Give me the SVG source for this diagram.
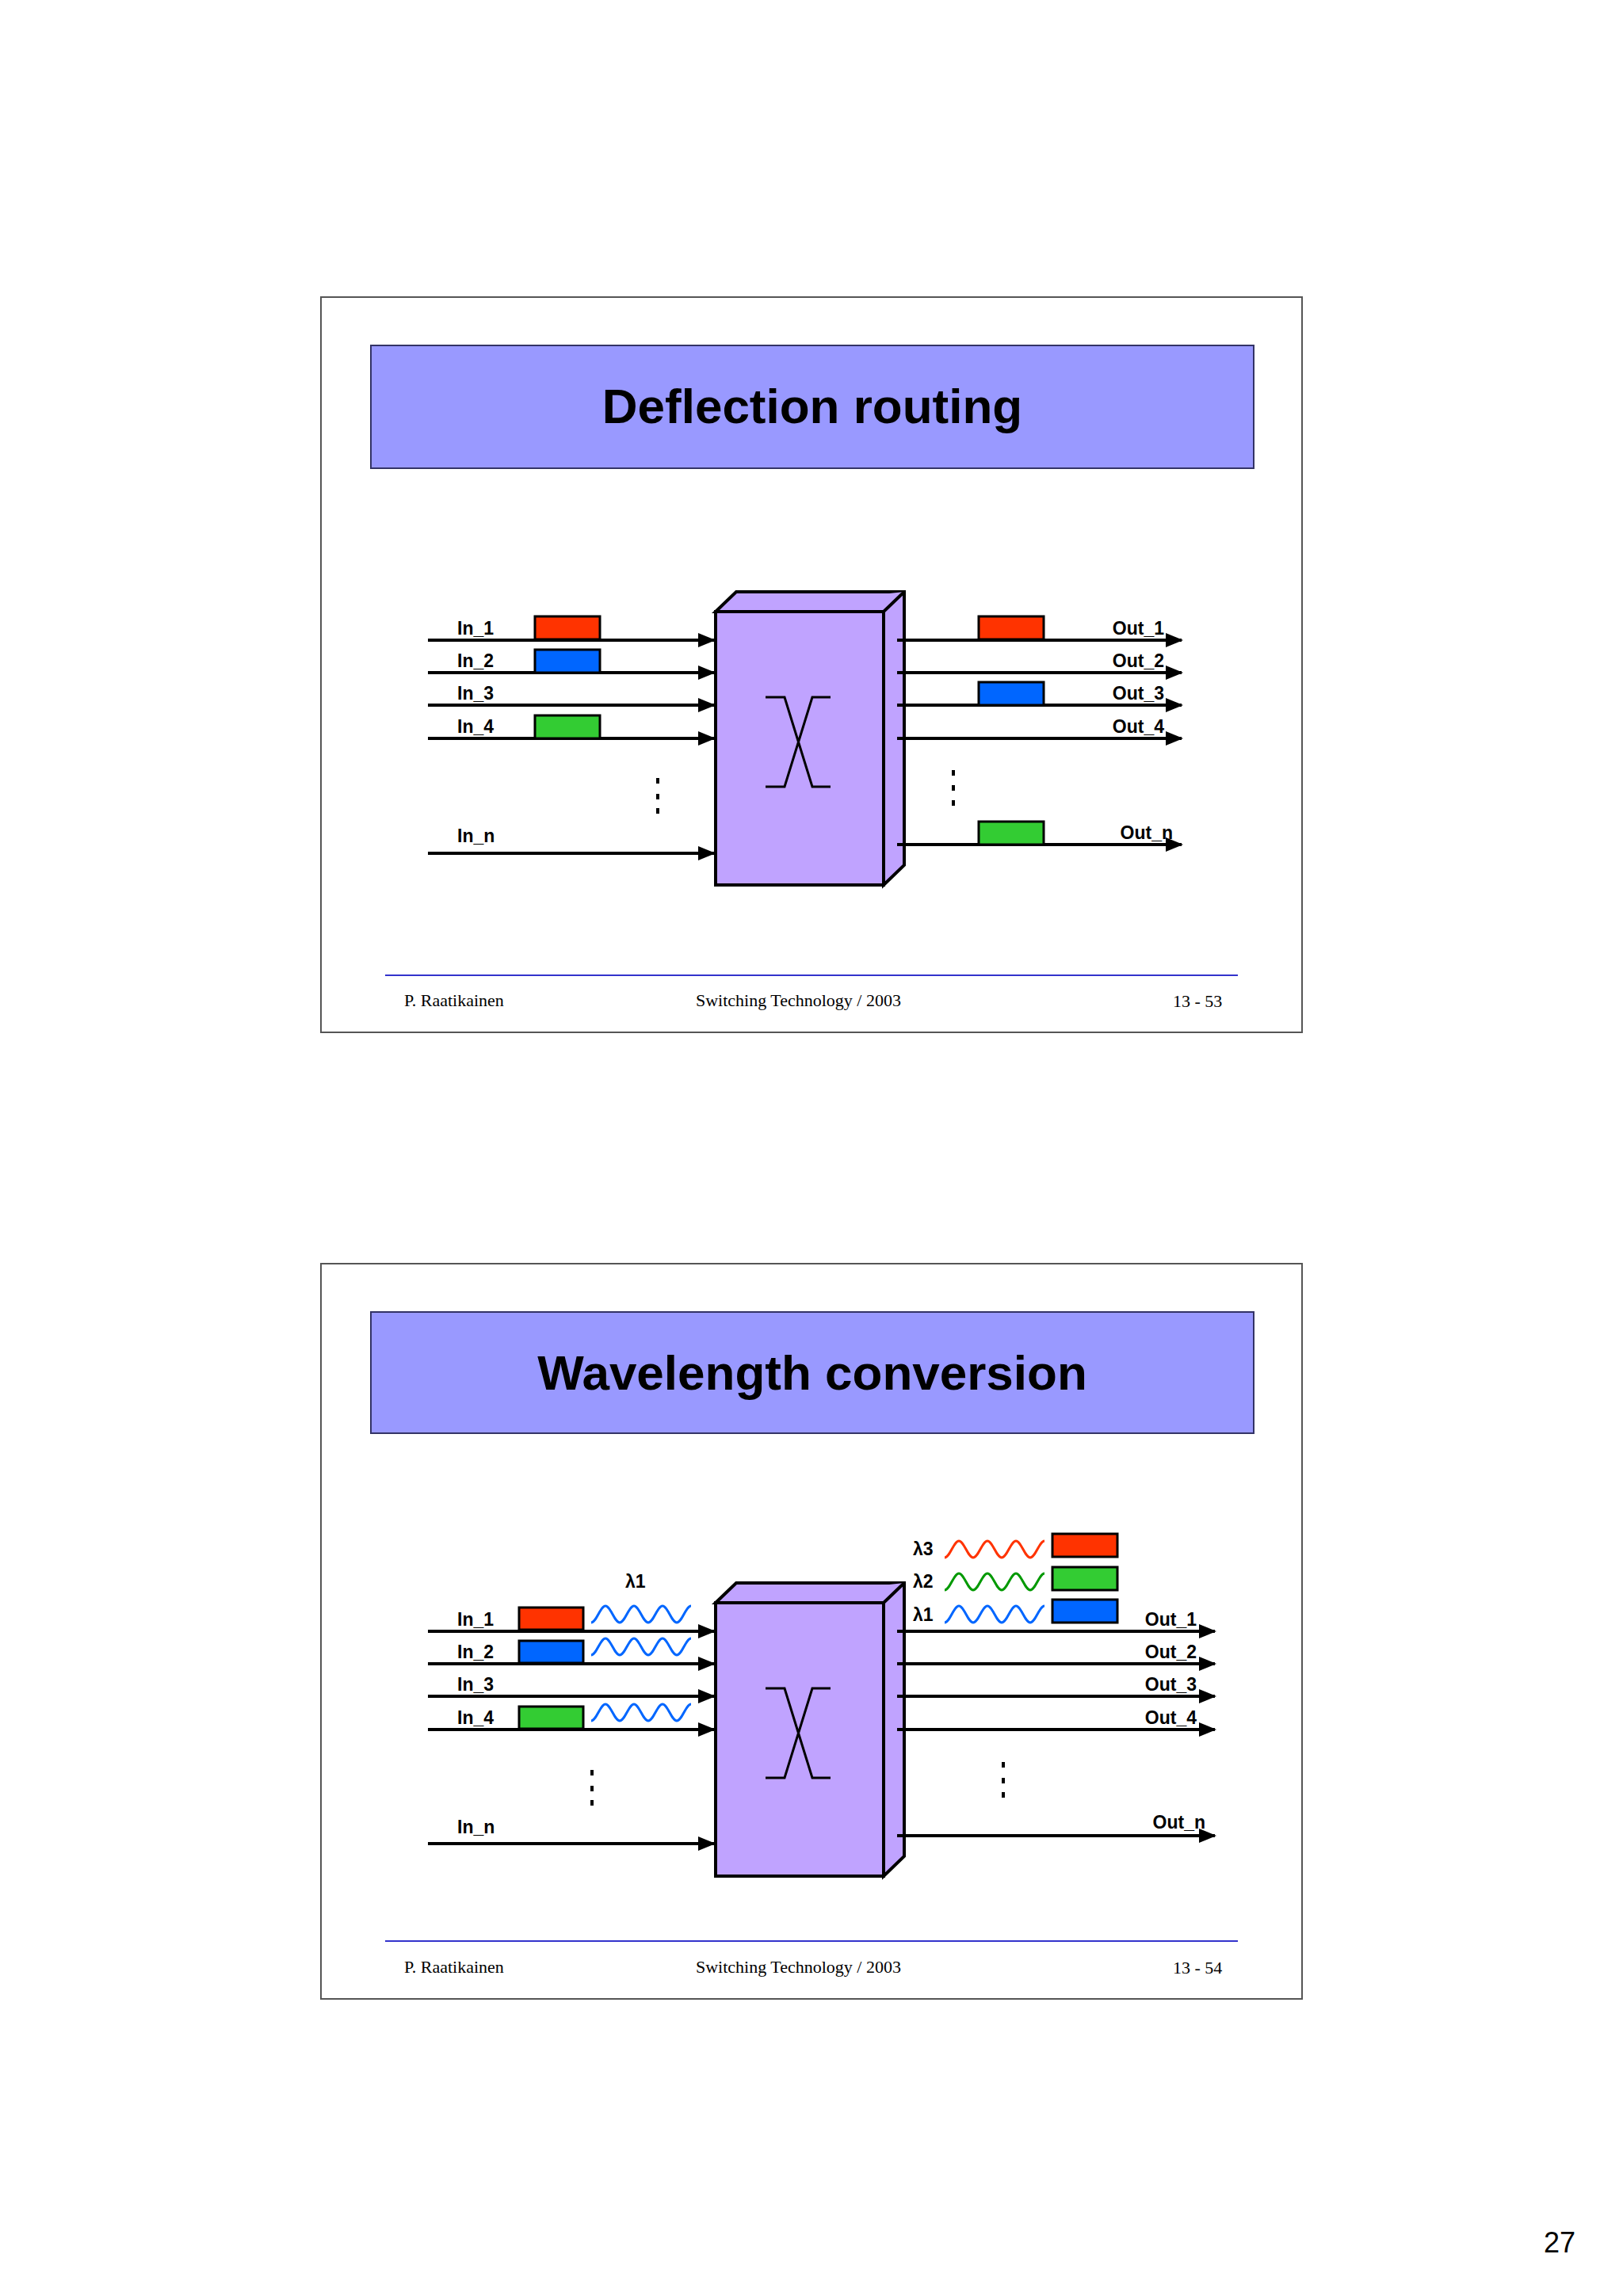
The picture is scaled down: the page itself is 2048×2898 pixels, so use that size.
<svg xmlns="http://www.w3.org/2000/svg" width="2048" height="2898" viewBox="0 0 2048 2898">
<style>
.frame{fill:#fff;stroke:#555;stroke-width:2}
.title{fill:#9999FF;stroke:#333366;stroke-width:2}
.tt{font-family:"Liberation Sans",Arial,sans-serif;font-weight:bold;font-size:62px;text-anchor:middle;fill:#000}
.foot{font-family:"Liberation Serif","Times New Roman",serif;font-size:22px;fill:#000}
.fl{stroke:#3333CC;stroke-width:2}
.lbl{font-family:"Liberation Sans",Arial,sans-serif;font-weight:bold;font-size:23px;fill:#000}
.ln{stroke:#000;stroke-width:4;fill:none;marker-end:url(#ah)}
.box{fill:#C0A3FF;stroke:#000;stroke-width:4;stroke-linejoin:miter}
.x{stroke:#000;stroke-width:3;fill:none}
.pk{stroke:#000;stroke-width:3}
.dot{fill:#000}
.wv{fill:none;stroke-width:3}
</style>
<defs>
<marker id="ah" markerUnits="userSpaceOnUse" markerWidth="22" markerHeight="18" refX="20" refY="9" orient="auto"><path d="M0,0 L22,9 L0,18 Z" fill="#000"/></marker>
<path id="wave" d="M0,21 c6.5,0 11.5,-21 18,-21 c6.5,0 11.5,21 18,21 c6.5,0 11.5,-21 18,-21 c6.5,0 11.5,21 18,21 c6.5,0 11.5,-21 18,-21 c6.5,0 11.5,21 18,21 c6.5,0 11.5,-21 18,-21"/>
<g id="sw">
<path class="box" d="M903,772 L929,747 L1141,747 L1141,1092 L1115,1117 L1115,772 Z"/>
<path class="box" d="M903,772 L1115,772 L1141,747"/>
<rect class="box" x="903" y="772" width="212" height="345"/>
<path class="x" d="M966,880 H990 L1025,993 H1048 M1048,880 H1025 L990,993 H966"/>
</g>
</defs>
<rect width="2048" height="2898" fill="#fff"/>

<!-- Slide 1 -->
<g id="slide1">
<rect class="frame" x="405" y="375" width="1238" height="928"/>
<g id="title1"><rect class="title" x="468" y="436" width="1114" height="155"/><text class="tt" x="1025" y="534">Deflection routing</text></g>
<g id="switch1"><use href="#sw"/></g>
<g id="connectors1">
<line class="ln" x1="540" y1="808" x2="901" y2="808"/>
<line class="ln" x1="540" y1="849" x2="901" y2="849"/>
<line class="ln" x1="540" y1="890" x2="901" y2="890"/>
<line class="ln" x1="540" y1="932" x2="901" y2="932"/>
<line class="ln" x1="540" y1="1077" x2="901" y2="1077"/>
<line class="ln" x1="1132" y1="808" x2="1491" y2="808"/>
<line class="ln" x1="1132" y1="849" x2="1491" y2="849"/>
<line class="ln" x1="1132" y1="890" x2="1491" y2="890"/>
<line class="ln" x1="1132" y1="932" x2="1491" y2="932"/>
<line class="ln" x1="1132" y1="1066" x2="1491" y2="1066"/>
</g>
<g id="packets1">
<rect class="pk" x="675" y="778" width="82" height="29" fill="#FF3300"/>
<rect class="pk" x="675" y="820" width="82" height="29" fill="#0066FF"/>
<rect class="pk" x="675" y="903" width="82" height="29" fill="#33CC33"/>
<rect class="pk" x="1235" y="778" width="82" height="29" fill="#FF3300"/>
<rect class="pk" x="1235" y="861" width="82" height="29" fill="#0066FF"/>
<rect class="pk" x="1235" y="1037" width="82" height="29" fill="#33CC33"/>
</g>
<g id="labels1">
<text class="lbl" x="577" y="801">In_1</text>
<text class="lbl" x="577" y="842">In_2</text>
<text class="lbl" x="577" y="883">In_3</text>
<text class="lbl" x="577" y="925">In_4</text>
<text class="lbl" x="577" y="1063">In_n</text>
<text class="lbl" x="1469" y="801" text-anchor="end">Out_1</text>
<text class="lbl" x="1469" y="842" text-anchor="end">Out_2</text>
<text class="lbl" x="1469" y="883" text-anchor="end">Out_3</text>
<text class="lbl" x="1469" y="925" text-anchor="end">Out_4</text>
<text class="lbl" x="1480" y="1059" text-anchor="end">Out_n</text>
</g>
<g id="dots1">
<rect class="dot" x="828" y="982" width="4" height="7"/><rect class="dot" x="828" y="1002" width="4" height="7"/><rect class="dot" x="828" y="1020" width="4" height="7"/>
<rect class="dot" x="1201" y="972" width="4" height="7"/><rect class="dot" x="1201" y="991" width="4" height="7"/><rect class="dot" x="1201" y="1010" width="4" height="7"/>
</g>
<line class="fl" x1="486" y1="1231" x2="1562" y2="1231"/>
<text class="foot" x="510" y="1270">P. Raatikainen</text>
<text class="foot" x="878" y="1270">Switching Technology  / 2003</text>
<text class="foot" x="1480" y="1271">13 - 53</text>
</g>

<!-- Slide 2 -->
<g id="slide2">
<rect class="frame" x="405" y="1595" width="1238" height="928"/>
<g id="title2"><rect class="title" x="468" y="1656" width="1114" height="153"/><text class="tt" x="1025" y="1754">Wavelength conversion</text></g>
<g id="switch2"><use href="#sw" transform="translate(0,1251)"/></g>
<g id="connectors2">
<line class="ln" x1="540" y1="2059" x2="901" y2="2059"/>
<line class="ln" x1="540" y1="2100" x2="901" y2="2100"/>
<line class="ln" x1="540" y1="2141" x2="901" y2="2141"/>
<line class="ln" x1="540" y1="2183" x2="901" y2="2183"/>
<line class="ln" x1="540" y1="2327" x2="901" y2="2327"/>
<line class="ln" x1="1132" y1="2059" x2="1533" y2="2059"/>
<line class="ln" x1="1132" y1="2100" x2="1533" y2="2100"/>
<line class="ln" x1="1132" y1="2141" x2="1533" y2="2141"/>
<line class="ln" x1="1132" y1="2183" x2="1533" y2="2183"/>
<line class="ln" x1="1132" y1="2317" x2="1533" y2="2317"/>
</g>
<g id="packets2">
<rect class="pk" x="655" y="2029" width="81" height="28" fill="#FF3300"/>
<rect class="pk" x="655" y="2071" width="81" height="28" fill="#0066FF"/>
<rect class="pk" x="655" y="2154" width="81" height="28" fill="#33CC33"/>
<rect class="pk" x="1328" y="1936" width="82" height="29" fill="#FF3300"/>
<rect class="pk" x="1328" y="1978" width="82" height="29" fill="#33CC33"/>
<rect class="pk" x="1328" y="2019" width="82" height="29" fill="#0066FF"/>
</g>
<g id="waves2">
<use href="#wave" class="wv" stroke="#0066FF" transform="translate(746,2027)"/>
<use href="#wave" class="wv" stroke="#0066FF" transform="translate(746,2068)"/>
<use href="#wave" class="wv" stroke="#0066FF" transform="translate(746,2151)"/>
<use href="#wave" class="wv" stroke="#FF3300" transform="translate(1192,1945)"/>
<use href="#wave" class="wv" stroke="#009900" transform="translate(1192,1986)"/>
<use href="#wave" class="wv" stroke="#0066FF" transform="translate(1192,2027)"/>
</g>
<g id="labels2">
<text class="lbl" x="789" y="2004">λ1</text>
<text class="lbl" x="1152" y="1963">λ3</text>
<text class="lbl" x="1152" y="2004">λ2</text>
<text class="lbl" x="1152" y="2046">λ1</text>
<text class="lbl" x="577" y="2052">In_1</text>
<text class="lbl" x="577" y="2093">In_2</text>
<text class="lbl" x="577" y="2134">In_3</text>
<text class="lbl" x="577" y="2176">In_4</text>
<text class="lbl" x="577" y="2314">In_n</text>
<text class="lbl" x="1510" y="2052" text-anchor="end">Out_1</text>
<text class="lbl" x="1510" y="2093" text-anchor="end">Out_2</text>
<text class="lbl" x="1510" y="2134" text-anchor="end">Out_3</text>
<text class="lbl" x="1510" y="2176" text-anchor="end">Out_4</text>
<text class="lbl" x="1521" y="2308" text-anchor="end">Out_n</text>
</g>
<g id="dots2">
<rect class="dot" x="745" y="2234" width="4" height="7"/><rect class="dot" x="745" y="2254" width="4" height="7"/><rect class="dot" x="745" y="2272" width="4" height="7"/>
<rect class="dot" x="1264" y="2224" width="4" height="7"/><rect class="dot" x="1264" y="2244" width="4" height="7"/><rect class="dot" x="1264" y="2262" width="4" height="7"/>
</g>
<line class="fl" x1="486" y1="2450" x2="1562" y2="2450"/>
<text class="foot" x="510" y="2490">P. Raatikainen</text>
<text class="foot" x="878" y="2490">Switching Technology  / 2003</text>
<text class="foot" x="1480" y="2491">13 - 54</text>
</g>

<text x="1988" y="2843" font-family="Liberation Sans,Arial,sans-serif" font-size="36" text-anchor="end">27</text>
</svg>
